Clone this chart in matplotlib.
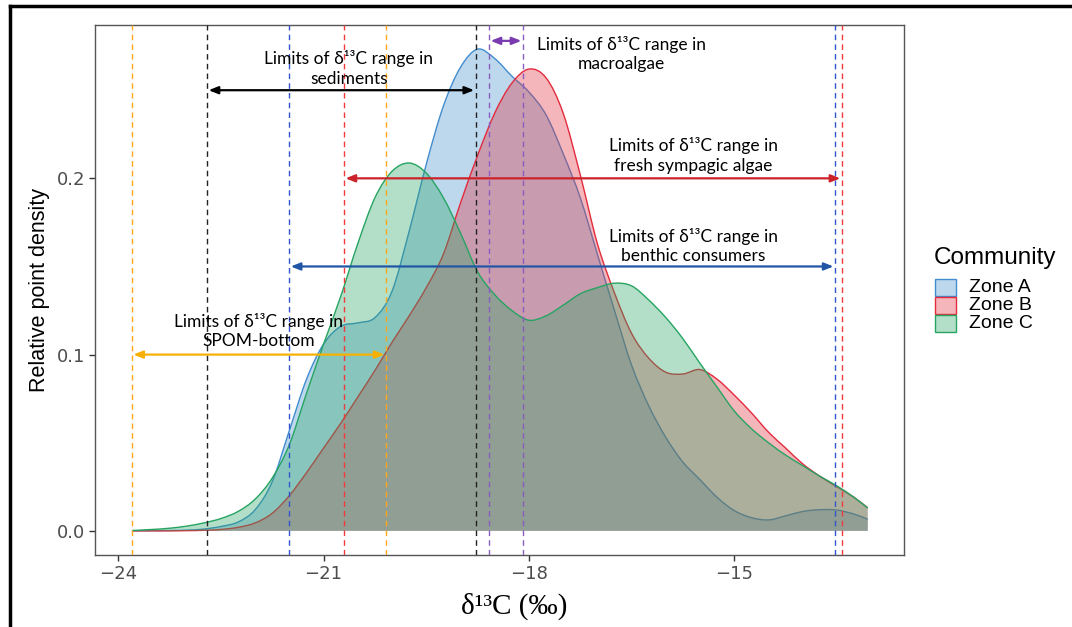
import numpy as np
import matplotlib.pyplot as plt
from matplotlib.patches import PathPatch, Rectangle
from matplotlib.path import Path
from matplotlib.lines import Line2D

# d13C grid (per mil) where the density curves were read
d13c = [-23.8, -23.5, -23.25, -23.0, -22.75, -22.5, -22.25, -22.0, -21.75, -21.5,
        -21.25, -21.0, -20.75, -20.5, -20.25, -20.0, -19.75, -19.5, -19.25, -19.0,
        -18.75, -18.5, -18.25, -18.0, -17.75, -17.5, -17.25, -17.0, -16.75, -16.5,
        -16.25, -16.0, -15.75, -15.5, -15.25, -15.0, -14.75, -14.5, -14.25, -14.0,
        -13.75, -13.5, -13.25, -13.05]

zone_a = [0.0, 0.0001, 0.0002, 0.0004, 0.001, 0.0025, 0.005, 0.012, 0.028, 0.057,
          0.086, 0.106, 0.116, 0.118, 0.121, 0.136, 0.170, 0.208, 0.241, 0.263,
          0.2733, 0.268, 0.258, 0.249, 0.236, 0.214, 0.189, 0.157, 0.125, 0.094,
          0.071, 0.053, 0.039, 0.029, 0.019, 0.0115, 0.0075, 0.0062, 0.0085, 0.011,
          0.012, 0.0118, 0.0095, 0.0066]

zone_b = [0.0, 0.0, 0.0, 0.0001, 0.0003, 0.0008, 0.002, 0.0045, 0.010, 0.020,
          0.033, 0.047, 0.061, 0.076, 0.091, 0.107, 0.122, 0.138, 0.157, 0.186,
          0.213, 0.237, 0.254, 0.262, 0.257, 0.237, 0.202, 0.163, 0.135, 0.112,
          0.098, 0.090, 0.089, 0.0915, 0.086, 0.077, 0.067, 0.056, 0.047, 0.038,
          0.031, 0.025, 0.019, 0.013]

zone_c = [0.0002, 0.0008, 0.0015, 0.0027, 0.0045, 0.007, 0.011, 0.018, 0.030, 0.049,
          0.078, 0.106, 0.133, 0.163, 0.189, 0.204, 0.2087, 0.203, 0.189, 0.169,
          0.147, 0.134, 0.125, 0.1195, 0.122, 0.128, 0.1345, 0.138, 0.1405, 0.139,
          0.131, 0.121, 0.109, 0.095, 0.0815, 0.068, 0.058, 0.050, 0.043, 0.037,
          0.031, 0.0255, 0.019, 0.013]

zones = ['Zone A', 'Zone B', 'Zone C']
zone_colors = ['#428DCE', '#E22C3D', '#26A462']

# limits of d13C ranges of the sources (lower, upper)
sources = ['SPOM-bottom', 'sediments', 'benthic consumers', 'fresh sympagic algae', 'macroalgae']
lower = [-23.8, -22.7, -21.5, -20.7, -18.58]
upper = [-20.09, -18.78, -13.53, -13.43, -18.09]
line_colors = ['#FFA81C', '#222222', '#3355CC', '#F23A3A', '#8A5CC0']
arrow_colors = ['#F8B000', '#000000', '#2156A6', '#CC2229', '#7A3AB0']
arrow_y = [0.1, 0.25, 0.15, 0.2, 0.278]
label_x = [-21.95, -20.63, -15.6, -15.6, -16.65]
label_y = [0.1133, 0.2623, 0.1618, 0.213, 0.2707]


def curve_path(x, y):
    # smooth curve through the read points (Catmull-Rom drawn as Bezier segments)
    pts = np.column_stack([x, y])
    n = len(pts)
    verts = [pts[0]]
    codes = [Path.MOVETO]
    for i in range(n - 1):
        p0 = pts[max(i - 1, 0)]
        p1 = pts[i]
        p2 = pts[i + 1]
        p3 = pts[min(i + 2, n - 1)]
        verts += [p1 + (p2 - p0) / 6, p2 - (p3 - p1) / 6, p2]
        codes += [Path.CURVE4] * 3
    return verts, codes


fig = plt.figure(figsize=(10.72, 6.27), dpi=100)
ax = fig.add_axes([95/1072, 1-555/627, 809/1072, 530/627])

for i in range(3):
    vals = [zone_a, zone_b, zone_c][i]
    verts, codes = curve_path(d13c, vals)
    fverts = verts + [(d13c[-1], 0), (d13c[0], 0), (d13c[0], 0)]
    fcodes = codes + [Path.LINETO, Path.LINETO, Path.CLOSEPOLY]
    ax.add_patch(PathPatch(Path(fverts, fcodes), facecolor=zone_colors[i], alpha=0.35,
                           lw=0, zorder=2+2*i))
    ax.add_patch(PathPatch(Path(verts, codes), fill=False, edgecolor=zone_colors[i],
                           lw=1, zorder=3+2*i))

for i in range(len(sources)):
    for xv in (lower[i], upper[i]):
        ax.axvline(xv, color=line_colors[i], lw=1, ls=(0, (4, 3)), zorder=10)
    ax.annotate('', xy=(upper[i], arrow_y[i]), xytext=(lower[i], arrow_y[i]),
                arrowprops=dict(arrowstyle='<|-|>,head_length=0.55,head_width=0.22',
                                color=arrow_colors[i], lw=1.6, mutation_scale=10,
                                shrinkA=1, shrinkB=1), zorder=11)
    ax.text(label_x[i], label_y[i], 'Limits of δ¹³C range in\n' + sources[i],
            ha='center', va='center', fontsize=12.5, linespacing=1.25,
            family=['Lato', 'DejaVu Sans'], color='black', zorder=12)

ax.set_xlim(-24.34, -12.52)
ax.set_ylim(-0.0137, 0.287)
ax.set_xticks([-24, -21, -18, -15])
ax.set_yticks([0.0, 0.1, 0.2])
ax.set_yticklabels(['0.0', '0.1', '0.2'])
ax.tick_params(length=4, width=1, color='#333333', labelcolor='#4D4D4D',
               labelsize=13, pad=3)
for s in ax.spines.values():
    s.set_color('#555555')
    s.set_linewidth(1)

ax.set_xlabel('δ¹³C (‰)', family=['Liberation Serif', 'DejaVu Serif'], fontsize=21)
ax.xaxis.set_label_coords(0.518, -0.072)
ax.set_ylabel('Relative point density', family=['Liberation Sans', 'DejaVu Sans'],
              fontsize=15.5, labelpad=5)

# legend, laid out as in ggplot
sans = ['Liberation Sans', 'DejaVu Sans']
fig.text(934/1072, 1-258/627, 'Community', fontsize=17.5, family=sans, va='center')
for i in range(3):
    yc = 287 + 18*i
    fig.add_artist(Rectangle((935/1072, 1-(yc+8.5)/627), 21/1072, 17/627,
                             transform=fig.transFigure, facecolor=zone_colors[i],
                             alpha=0.35, lw=0))
    fig.add_artist(Rectangle((935/1072, 1-(yc+8.5)/627), 21/1072, 17/627,
                             transform=fig.transFigure, fill=False,
                             edgecolor=zone_colors[i], lw=1))
    fig.text(969/1072, 1-yc/627, zones[i], fontsize=14, family=sans, va='center')

# outer frame of the original figure
fig.add_artist(Line2D([9.5/1072, 9.5/1072], [0, 1-6/627], transform=fig.transFigure,
                      color='black', lw=2.5))
fig.add_artist(Line2D([9.5/1072, 1], [1-6/627, 1-6/627], transform=fig.transFigure,
                      color='black', lw=2.5))

fig.savefig('out.png', dpi=100)
